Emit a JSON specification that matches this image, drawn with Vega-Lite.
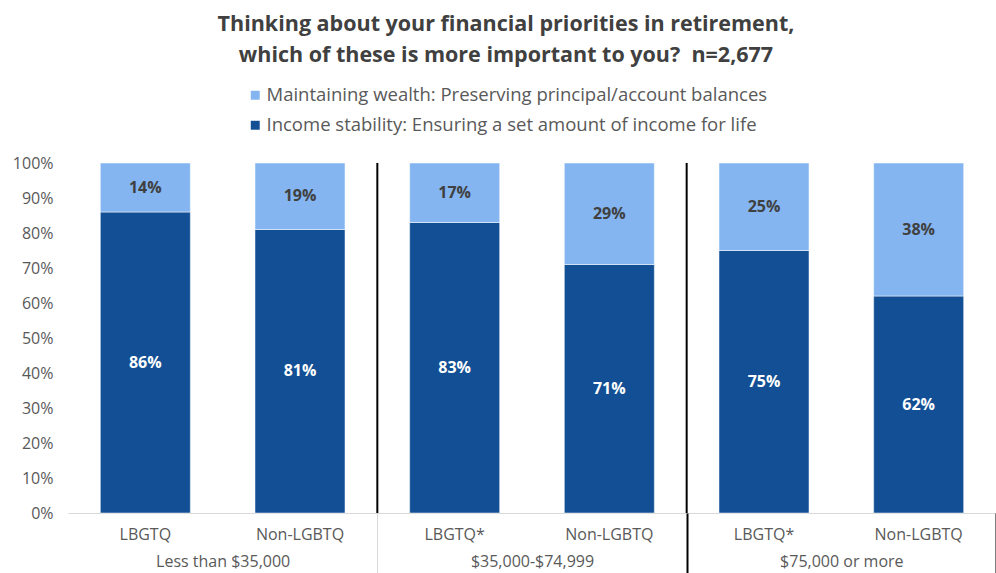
{
  "$schema": "https://vega.github.io/schema/vega-lite/v6.json",
  "width": 928,
  "height": 350,
  "autosize": {"type": "none"},
  "padding": {"left": 68, "top": 163, "right": 0, "bottom": 60},
  "background": "white",
  "config": {
    "view": {"stroke": null},
    "font": "Open Sans"
  },
  "title": {
    "text": ["Thinking about your financial priorities in retirement,", "which of these is more important to you?\u00a0 n=2,677"],
    "anchor": "middle",
    "frame": "group",
    "dx": -26,
    "offset": 20,
    "fontSize": 21.5,
    "fontWeight": "bold",
    "color": "#404040",
    "lineHeight": 31,
    "font": "Open Sans"
  },
  "datasets": {
    "main": [
      {"group": "Less than $35,000", "sub": "LBGTQ", "key": "Less than $35,000|LBGTQ", "answer": "Income stability: Ensuring a set amount of income for life", "value": 0.86},
      {"group": "Less than $35,000", "sub": "LBGTQ", "key": "Less than $35,000|LBGTQ", "answer": "Maintaining wealth: Preserving principal/account balances", "value": 0.14},
      {"group": "Less than $35,000", "sub": "Non-LGBTQ", "key": "Less than $35,000|Non-LGBTQ", "answer": "Income stability: Ensuring a set amount of income for life", "value": 0.81},
      {"group": "Less than $35,000", "sub": "Non-LGBTQ", "key": "Less than $35,000|Non-LGBTQ", "answer": "Maintaining wealth: Preserving principal/account balances", "value": 0.19},
      {"group": "$35,000-$74,999", "sub": "LBGTQ*", "key": "$35,000-$74,999|LBGTQ*", "answer": "Income stability: Ensuring a set amount of income for life", "value": 0.83},
      {"group": "$35,000-$74,999", "sub": "LBGTQ*", "key": "$35,000-$74,999|LBGTQ*", "answer": "Maintaining wealth: Preserving principal/account balances", "value": 0.17},
      {"group": "$35,000-$74,999", "sub": "Non-LGBTQ", "key": "$35,000-$74,999|Non-LGBTQ", "answer": "Income stability: Ensuring a set amount of income for life", "value": 0.71},
      {"group": "$35,000-$74,999", "sub": "Non-LGBTQ", "key": "$35,000-$74,999|Non-LGBTQ", "answer": "Maintaining wealth: Preserving principal/account balances", "value": 0.29},
      {"group": "$75,000 or more", "sub": "LBGTQ*", "key": "$75,000 or more|LBGTQ*", "answer": "Income stability: Ensuring a set amount of income for life", "value": 0.75},
      {"group": "$75,000 or more", "sub": "LBGTQ*", "key": "$75,000 or more|LBGTQ*", "answer": "Maintaining wealth: Preserving principal/account balances", "value": 0.25},
      {"group": "$75,000 or more", "sub": "Non-LGBTQ", "key": "$75,000 or more|Non-LGBTQ", "answer": "Income stability: Ensuring a set amount of income for life", "value": 0.62},
      {"group": "$75,000 or more", "sub": "Non-LGBTQ", "key": "$75,000 or more|Non-LGBTQ", "answer": "Maintaining wealth: Preserving principal/account balances", "value": 0.38}
    ],
    "groups": [
      {"group": "Less than $35,000"},
      {"group": "$35,000-$74,999"},
      {"group": "$75,000 or more"}
    ]
  },
  "layer": [
    {
      "data": {"name": "main"},
      "transform": [
        {"stack": "value", "groupby": ["key"], "sort": [{"field": "answer", "order": "ascending"}], "as": ["v0", "v1"]},
        {"calculate": "(datum.v0 + datum.v1) / 2", "as": "mid"}
      ],
      "layer": [
        {
          "mark": {"type": "bar", "stroke": "white", "strokeWidth": 0.5},
          "encoding": {
            "x": {
              "field": "key", "type": "nominal", "title": null,
              "sort": ["Less than $35,000|LBGTQ", "Less than $35,000|Non-LGBTQ", "$35,000-$74,999|LBGTQ*", "$35,000-$74,999|Non-LGBTQ", "$75,000 or more|LBGTQ*", "$75,000 or more|Non-LGBTQ"],
              "scale": {"paddingInner": 0.418, "paddingOuter": 0.209},
              "axis": {
                "orient": "bottom",
                "labelExpr": "split(datum.label, '|')[1]",
                "labelAngle": 0,
                "ticks": false,
                "domainColor": "#d9d9d9",
                "domainWidth": 1,
                "labelColor": "#595959",
                "labelFontSize": 16,
                "labelPadding": 13,
                "labelFont": "Open Sans"
              }
            },
            "y": {
              "field": "v0", "type": "quantitative",
              "scale": {"domain": [0, 1]},
              "axis": {
                "title": null,
                "format": ".0%",
                "values": [0, 0.1, 0.2, 0.3, 0.4, 0.5, 0.6, 0.7, 0.8, 0.9, 1],
                "labelOverlap": false,
                "grid": false,
                "domain": false,
                "ticks": false,
                "labelColor": "#595959",
                "labelFontSize": 16,
                "labelPadding": 15,
                "labelFont": "Open Sans"
              }
            },
            "y2": {"field": "v1"},
            "color": {
              "field": "answer", "type": "nominal",
              "scale": {
                "domain": ["Maintaining wealth: Preserving principal/account balances", "Income stability: Ensuring a set amount of income for life"],
                "range": ["#84B5F0", "#124F94"]
              },
              "legend": {
                "title": null,
                "orient": "none",
                "legendX": 178,
                "legendY": -77,
                "direction": "vertical",
                "symbolType": "square",
                "symbolSize": 80,
                "symbolStrokeWidth": 0,
                "labelFontSize": 18.5,
                "labelColor": "#595959",
                "labelFont": "Open Sans",
                "labelLimit": 700,
                "rowPadding": 11,
                "labelOffset": 2
              }
            }
          }
        },
        {
          "mark": {"type": "text", "fontWeight": "bold", "fontSize": 16, "font": "Open Sans"},
          "encoding": {
            "x": {
              "field": "key", "type": "nominal",
              "sort": ["Less than $35,000|LBGTQ", "Less than $35,000|Non-LGBTQ", "$35,000-$74,999|LBGTQ*", "$35,000-$74,999|Non-LGBTQ", "$75,000 or more|LBGTQ*", "$75,000 or more|Non-LGBTQ"]
            },
            "y": {
              "field": "mid", "type": "quantitative",
              "axis": {
                "title": null,
                "format": ".0%",
                "values": [0, 0.1, 0.2, 0.3, 0.4, 0.5, 0.6, 0.7, 0.8, 0.9, 1],
                "labelOverlap": false,
                "grid": false,
                "domain": false,
                "ticks": false,
                "labelColor": "#595959",
                "labelFontSize": 16,
                "labelPadding": 15,
                "labelFont": "Open Sans"
              }
            },
            "text": {"field": "value", "type": "quantitative", "format": ".0%"},
            "color": {
              "condition": {"test": "datum.answer === 'Income stability: Ensuring a set amount of income for life'", "value": "white"},
              "value": "#404040"
            }
          }
        }
      ]
    },
    {
      "data": {"name": "groups"},
      "transform": [{"filter": "datum.group !== 'Less than $35,000'"}],
      "mark": {"type": "rule", "color": "black", "strokeWidth": 2},
      "encoding": {
        "x": {
          "field": "group", "type": "nominal", "bandPosition": 0, "title": null,
          "scale": {"domain": ["Less than $35,000", "$35,000-$74,999", "$75,000 or more"], "paddingInner": 0, "paddingOuter": 0},
          "axis": {
            "orient": "bottom",
            "domain": false,
            "labelAngle": 0,
            "tickBand": "extent",
            "tickSize": 60,
            "tickColor": {"condition": [{"test": "datum.extra", "value": "transparent"}, {"test": "datum.value === 'Less than $35,000'", "value": "#d9d9d9"}], "value": "black"},
            "tickWidth": {"condition": {"test": "datum.value === 'Less than $35,000'", "value": 1}, "value": 2},
            "labelPadding": -20,
            "labelColor": "#595959",
            "labelFontSize": 16,
            "labelFont": "Open Sans"
          }
        }
      }
    }
  ],
  "resolve": {"scale": {"x": "independent"}, "axis": {"x": "independent"}}
}
